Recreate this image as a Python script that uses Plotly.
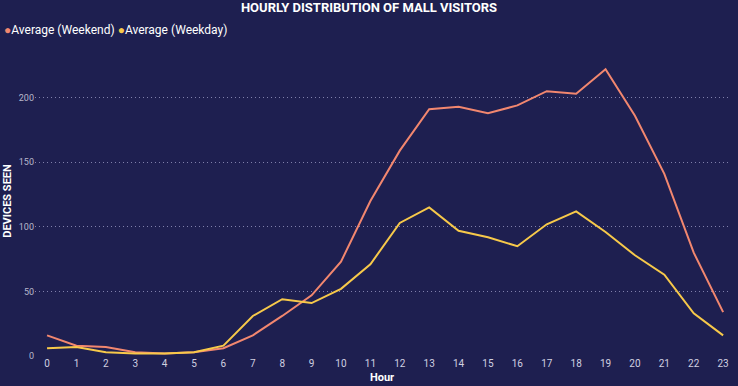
import plotly.graph_objects as go

hours = list(range(24))
hour_labels = [str(h) for h in hours]
weekend = [16, 8, 7, 3, 2, 3, 6, 16, 31, 47, 73, 120, 159, 191, 193, 188, 194, 205, 203, 222, 186, 141, 80, 34]
weekday = [6, 7, 3, 2, 2, 3, 8, 31, 44, 41, 52, 71, 103, 115, 97, 92, 85, 102, 112, 96, 78, 63, 33, 16]
series_names = ["Average (Weekend)", "Average (Weekday)"]
series_colors = ["#f2876f", "#f7c94a"]

BG = "#1e1f50"
FONT = "Roboto"

fig = go.Figure()
for name, vals, col in zip(series_names, [weekend, weekday], series_colors):
    fig.add_trace(go.Scatter(x=hours, y=vals, mode="lines", name=name,
                             line=dict(color=col, width=2), showlegend=False))

legend_text = "&nbsp;".join(
    f"<span style='color:{c}'>●</span><span style='color:#ffffff'>{n}</span>"
    for n, c in zip(series_names, series_colors))
fig.add_annotation(text=legend_text, xref="paper", yref="paper", x=-33/694, y=1.0,
                   xanchor="left", yanchor="bottom", yshift=7, showarrow=False,
                   font=dict(family=FONT, size=12, color="#ffffff"))

fig.update_layout(
    width=738, height=386,
    paper_bgcolor=BG, plot_bgcolor=BG,
    margin=dict(l=35, r=9, t=46, b=30, autoexpand=False),
    title=dict(text="<b>HOURLY DISTRIBUTION OF MALL VISITORS</b>", x=0.5, xanchor="center",
               y=0.993, yanchor="top", font=dict(family=FONT, size=13, color="#ffffff")),
    font=dict(family=FONT, color="#c8c8dc"),
    showlegend=False,
)
fig.update_xaxes(range=[-0.41, 23.2], tickmode="array", tickvals=hours, ticktext=hour_labels,
                 showgrid=False, zeroline=False, showline=False, ticks="", automargin=False,
                 tickfont=dict(size=10, color="#d0d0e0"),
                 title=dict(text="<b>Hour</b>", standoff=5, font=dict(size=11, color="#ffffff")))
fig.update_yaxes(range=[0, 240], tickvals=[0, 50, 100, 150, 200], showgrid=True,
                 gridcolor="rgba(170,170,210,0.7)", griddash="1px,3px", gridwidth=1,
                 zeroline=False, showline=False, ticks="", automargin=False,
                 tickfont=dict(size=9, color="#b8b8cc"),
                 title=dict(text="<b>DEVICES SEEN</b>", standoff=4, font=dict(size=11, color="#ffffff")))

fig.write_html("out.html", config={"displayModeBar": False},
               post_script="document.body.style.margin='0';document.body.style.overflow='hidden';")
